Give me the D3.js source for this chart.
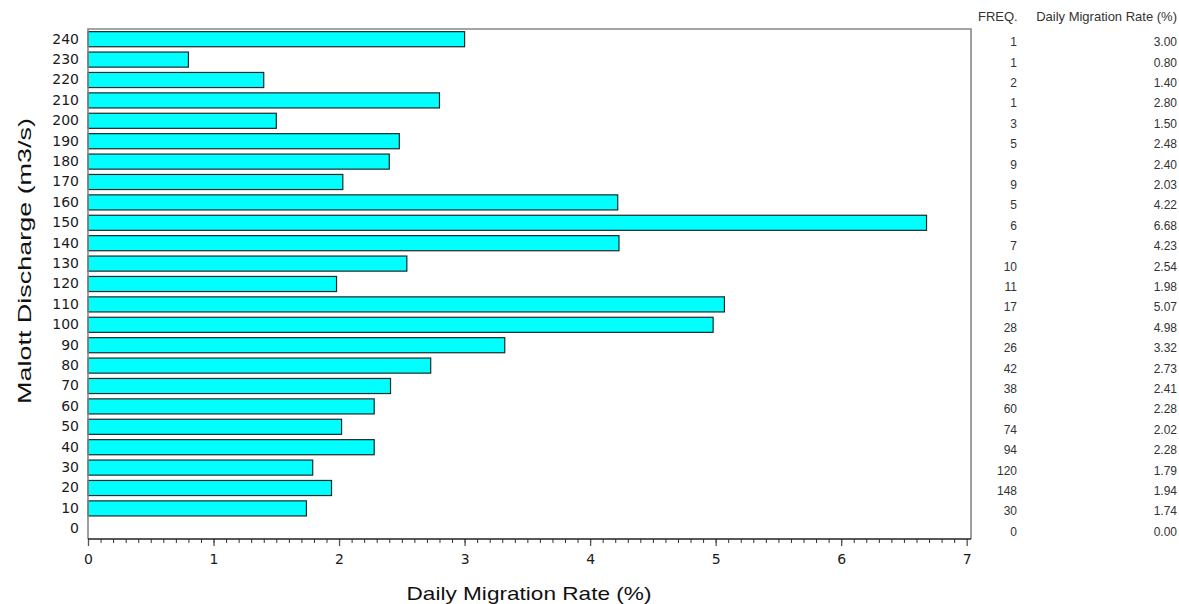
<!DOCTYPE html>
<html>
<head>
<meta charset="utf-8">
<script src="https://cdn.jsdelivr.net/npm/d3@7"></script>
<style>
  body { margin: 0; background: #fff; }
  svg { display: block; }
</style>
</head>
<body>
<svg id="chart" width="1179" height="604"></svg>
<script>
// Malott discharge classes (m3/s), top to bottom
const discharge = [240, 230, 220, 210, 200, 190, 180, 170, 160, 150, 140, 130, 120,
                   110, 100, 90, 80, 70, 60, 50, 40, 30, 20, 10, 0];
const freq = [1, 1, 2, 1, 3, 5, 9, 9, 5, 6, 7, 10, 11, 17, 28, 26, 42, 38, 60, 74, 94, 120, 148, 30, 0];
const rate = [3.00, 0.80, 1.40, 2.80, 1.50, 2.48, 2.40, 2.03, 4.22, 6.68, 4.23, 2.54, 1.98,
              5.07, 4.98, 3.32, 2.73, 2.41, 2.28, 2.02, 2.28, 1.79, 1.94, 1.74, 0.00];
const xTicks = [0, 1, 2, 3, 4, 5, 6, 7];

const svg = d3.select("#chart");
const mLeft = 88, mRight = 966.7, frameRight = 971, mTop = 29, mBottom = 539;

const x = d3.scaleLinear().domain([0, 7]).range([mLeft, mRight]);
const y = d3.scaleBand().domain(discharge).range([mTop, mBottom])
  .paddingInner(0.26).paddingOuter(0.13);

// bars
svg.append("g")
  .selectAll("rect")
  .data(discharge.map((d, i) => ({ d, v: rate[i] })).filter(r => r.v > 0))
  .join("rect")
  .attr("x", x(0))
  .attr("y", r => y(r.d))
  .attr("width", r => x(r.v) - x(0))
  .attr("height", y.bandwidth())
  .attr("fill", "#00ffff")
  .attr("stroke", "#1e2a2a")
  .attr("stroke-width", 1.2);

// frame (gray top / right / left)
svg.append("path")
  .attr("d", `M${mLeft},${mBottom}V${mTop}H${frameRight}V${mBottom}`)
  .attr("fill", "none")
  .attr("stroke", "#888")
  .attr("stroke-width", 1.6);

// x axis: minor ticks every 0.1, major each integer
const xg = svg.append("g").attr("transform", `translate(0,${mBottom})`);
xg.call(d3.axisBottom(x).tickValues(d3.range(0, 70).map(i => i / 10)).tickSize(4).tickFormat(""))
  .call(g => g.select(".domain").remove())
  .call(g => g.selectAll("line").attr("stroke", "#333"));
xg.append("g")
  .call(d3.axisBottom(x).tickValues(xTicks).tickSize(7).tickPadding(8).tickFormat(d3.format("d")))
  .call(g => g.select(".domain").remove())
  .call(g => g.selectAll("line").attr("stroke", "#555").attr("stroke-width", 1.3))
  .call(g => g.selectAll("text").attr("font-family", "DejaVu Sans, Verdana, sans-serif")
    .attr("font-size", 14).attr("fill", "#1a1a1a"));
xg.append("line")
  .attr("x1", mLeft).attr("x2", frameRight)
  .attr("stroke", "#222").attr("stroke-width", 1.3);

// y axis labels
const yg = svg.append("g").attr("transform", `translate(${mLeft},0)`);
yg.call(d3.axisLeft(y).tickSize(0).tickPadding(9))
  .call(g => g.select(".domain").remove())
  .call(g => g.selectAll("text").attr("font-family", "DejaVu Sans, Verdana, sans-serif")
    .attr("font-size", 14).attr("fill", "#1a1a1a"));

// axis titles
svg.append("text")
  .attr("x", 529).attr("y", 600)
  .attr("text-anchor", "middle")
  .attr("font-family", "Liberation Sans, Arial, sans-serif")
  .attr("font-size", 19)
  .attr("textLength", 245).attr("lengthAdjust", "spacingAndGlyphs")
  .attr("fill", "#111")
  .text("Daily Migration Rate (%)");

svg.append("text")
  .attr("transform", "translate(31,261) rotate(-90)")
  .attr("text-anchor", "middle")
  .attr("font-family", "Liberation Sans, Arial, sans-serif")
  .attr("font-size", 19)
  .attr("textLength", 286).attr("lengthAdjust", "spacingAndGlyphs")
  .attr("fill", "#111")
  .text("Malott Discharge (m3/s)");

// side table
const tbl = svg.append("g")
  .attr("font-family", "Liberation Sans, Arial, sans-serif")
  .attr("font-size", 12)
  .attr("fill", "#333");

tbl.append("text").attr("x", 978).attr("y", 21).attr("font-size", 13).text("FREQ.");
tbl.append("text").attr("x", 1177).attr("y", 21).attr("font-size", 13)
  .attr("text-anchor", "end").text("Daily Migration Rate (%)");

tbl.selectAll("text.f")
  .data(discharge)
  .join("text")
  .attr("class", "f")
  .attr("x", 1017)
  .attr("y", (d) => y(d) + y.bandwidth() / 2 + 7)
  .attr("text-anchor", "end")
  .text((d, i) => freq[i]);

tbl.selectAll("text.r")
  .data(discharge)
  .join("text")
  .attr("class", "r")
  .attr("x", 1177)
  .attr("y", (d) => y(d) + y.bandwidth() / 2 + 7)
  .attr("text-anchor", "end")
  .text((d, i) => d3.format(".2f")(rate[i]));
</script>
</body>
</html>
